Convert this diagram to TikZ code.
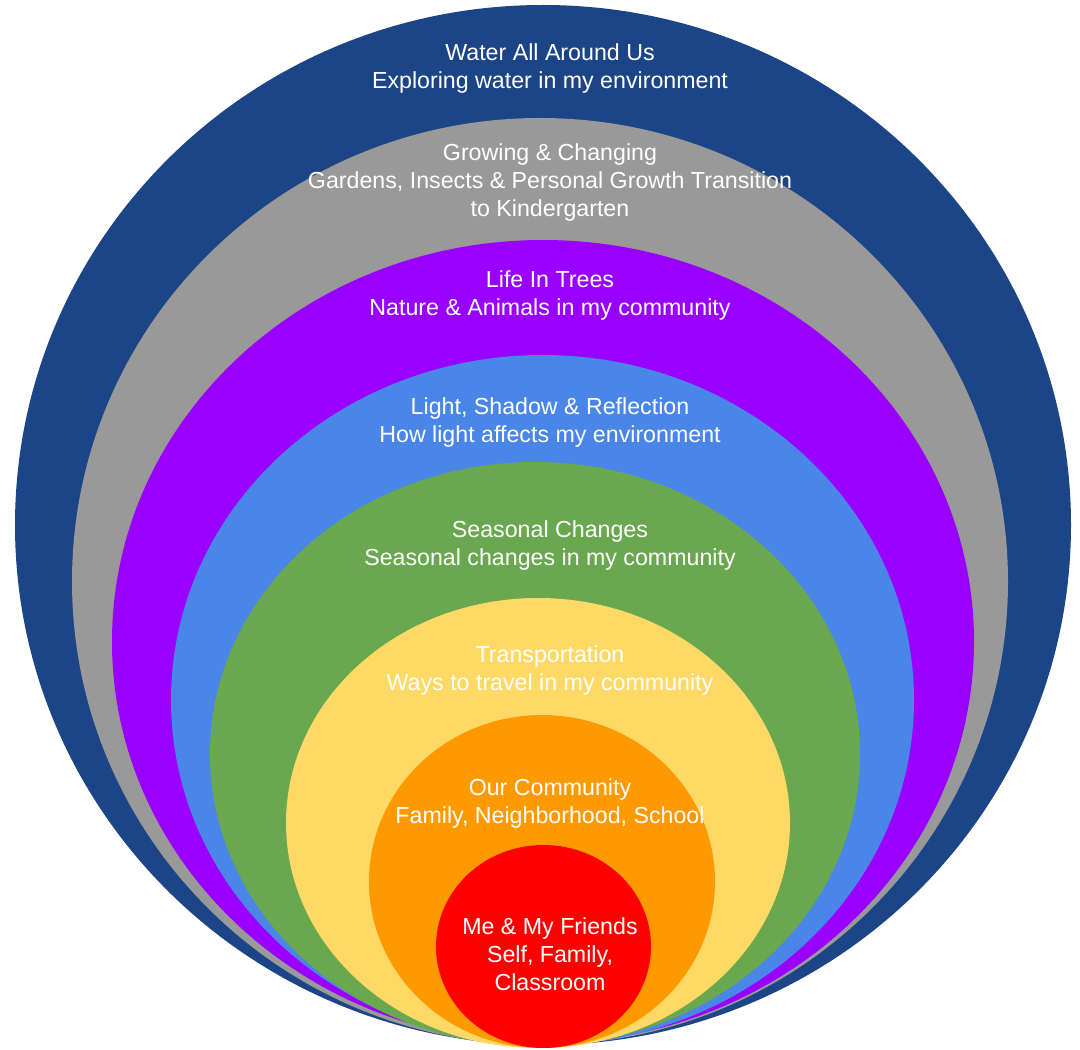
\documentclass[tikz,border=0pt]{standalone}
\usepackage{fontspec}
\setmainfont{Liberation Sans}
\usepackage{xcolor}
\usepackage{tikz}
\definecolor{ring-navy}{RGB}{28, 69, 135}
\definecolor{ring-gray}{RGB}{153, 153, 153}
\definecolor{ring-purple}{RGB}{153, 0, 255}
\definecolor{ring-blue}{RGB}{74, 134, 232}
\definecolor{ring-green}{RGB}{106, 168, 79}
\definecolor{ring-yellow}{RGB}{255, 217, 102}
\definecolor{ring-orange}{RGB}{255, 153, 0}
\definecolor{ring-red}{RGB}{255, 0, 0}

\begin{document}
\begin{tikzpicture}[x = 0.025cm, y = -0.025cm,
    ring/.style = {fill = #1, draw = none},
    topic/.style = {text = white, align = center, font = \fontsize{16.5}{19.9}\selectfont, inner sep = 0pt}]
          \useasboundingbox (0, 0) rectangle (1080, 1050);

          \coordinate (c-water) at (543, 525);
          \coordinate (c-grow) at (540, 581.5);
          \coordinate (c-trees) at (543, 641.5);
          \coordinate (c-light) at (542.5, 700);
          \coordinate (c-season) at (535, 754);
          \coordinate (c-travel) at (538, 823);
          \coordinate (c-comm) at (542, 881.5);
          \coordinate (c-me) at (543.5, 946.5);

          \fill[ring = ring-navy] (c-water) ellipse [x radius = 528, y radius = 520];
          \fill[ring = ring-gray] (c-grow) ellipse [x radius = 468, y radius = 463.5];
          \fill[ring = ring-purple] (c-trees) ellipse [x radius = 431, y radius = 401.5];
          \fill[ring = ring-blue] (c-light) ellipse [x radius = 371.5, y radius = 345];
          \fill[ring = ring-green] (c-season) ellipse [x radius = 325, y radius = 292];
          \fill[ring = ring-yellow] (c-travel) ellipse [x radius = 252, y radius = 225];
          \fill[ring = ring-orange] (c-comm) ellipse [x radius = 173, y radius = 166.5];
          \fill[ring = ring-red] (c-me) ellipse [x radius = 107.5, y radius = 101.5];

          \node[topic] (t-water) at (550, 68.5) {Water All Around Us\\Exploring water in my environment};
          \node[topic] (t-grow) at (550, 182.5) {Growing \& Changing\\Gardens, Insects \& Personal Growth Transition\\to Kindergarten};
          \node[topic] (t-trees) at (550, 295.5) {Life In Trees\\Nature \& Animals in my community};
          \node[topic] (t-light) at (550, 422.5) {Light, Shadow \& Reflection\\How light affects my environment};
          \node[topic] (t-season) at (550, 545.5) {Seasonal Changes\\Seasonal changes in my community};
          \node[topic] (t-travel) at (550, 670.5) {Transportation\\Ways to travel in my community};
          \node[topic] (t-comm) at (550, 803.5) {Our Community\\Family, Neighborhood, School};
          \node[topic] (t-me) at (550, 954.5) {Me \& My Friends\\Self, Family,\\Classroom};
        \end{tikzpicture}
\end{document}
